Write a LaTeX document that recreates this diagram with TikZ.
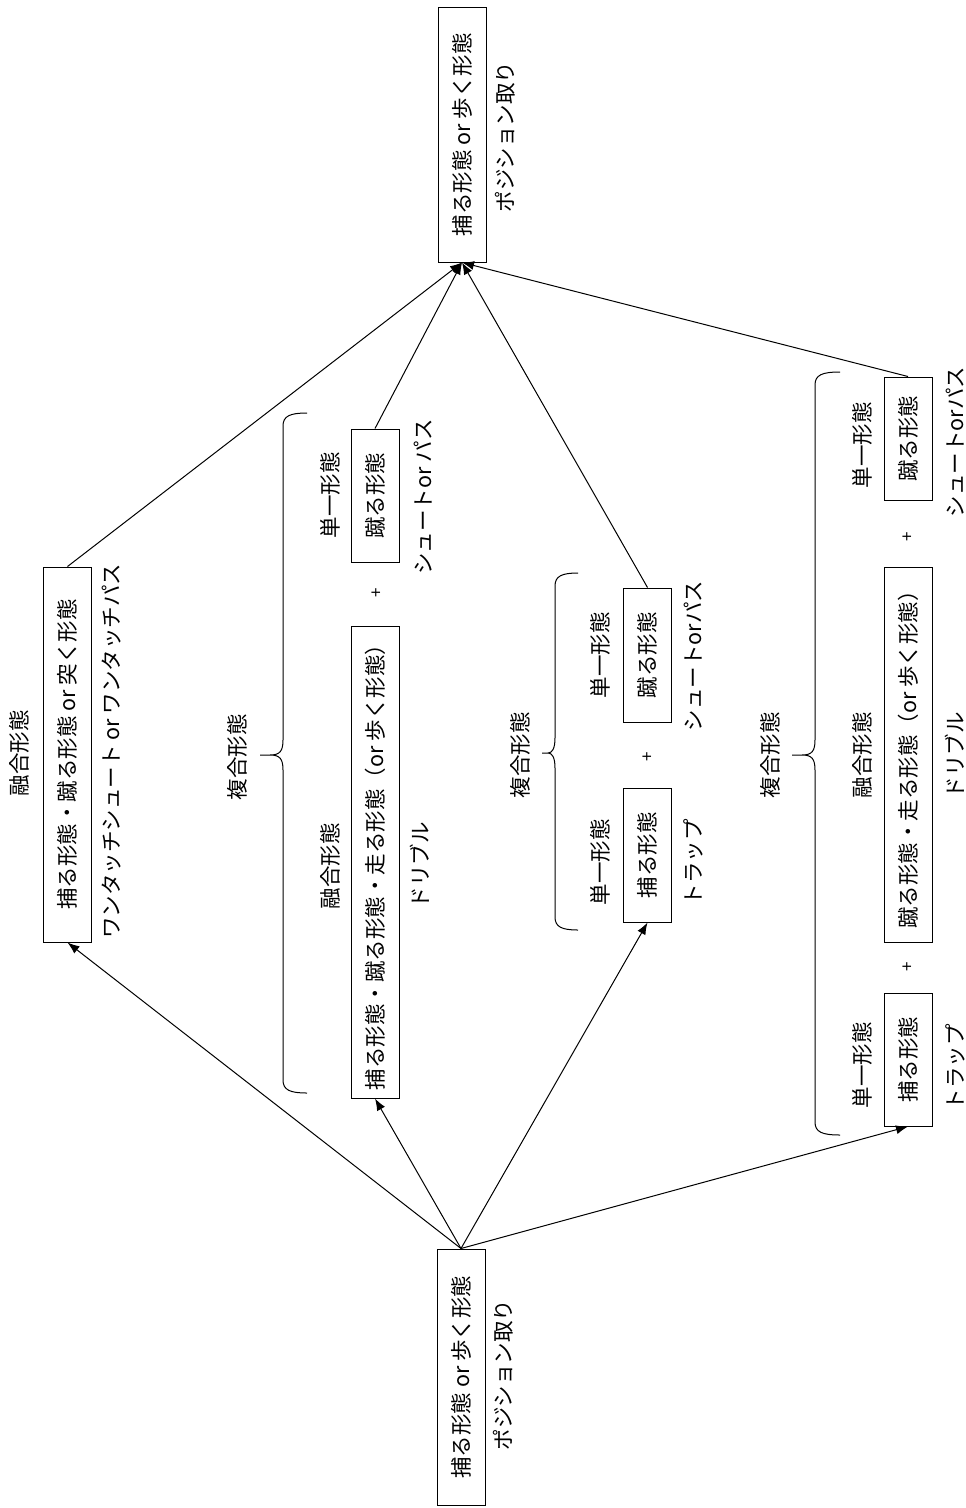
\documentclass[tikz,border=0pt]{standalone}
\usepackage{fontspec}
\setmainfont{Noto Sans CJK JP}
\usetikzlibrary{arrows.meta}
\begin{document}
\begin{tikzpicture}[x=1pt,y=-1pt,
  txt/.style={rotate=90, inner sep=0pt, font=\fontsize{21.5}{25}\selectfont},
  box/.style={txt, draw, line width=1pt, minimum height=48pt},
  plus/.style={txt, font=\fontsize{17}{19}\selectfont},
  arr/.style={line width=1pt, -{Latex[length=12pt,width=9pt]}},
  brace/.style={line width=1pt}]
\useasboundingbox (0,0) rectangle (966,1508);

% start and goal: position taking
\node[box, minimum width=255pt] (goal) at (462,134.5) {捕る形態 or 歩く形態};
\node[txt] (goalcap) at (505,137) {ポジション取り};
\node[box, minimum width=256pt] (start) at (461,1377) {捕る形態 or 歩く形態};
\node[txt] (startcap) at (503,1375) {ポジション取り};

% route 1: fused one-touch form
\node[txt] (fAlbl) at (19,753) {融合形態};
\node[box, minimum width=375pt] (fA) at (67.5,754.5) {捕る形態・蹴る形態 or 突く形態};
\node[txt] (fAcap) at (112,751) {ワンタッチシュート or ワンタッチパス};

% route 2: dribble + kick
\node[txt] (c1lbl) at (237,757) {複合形態};
\draw[brace] (307,413) .. controls (290,413) and (283,416) .. (283,426)
  -- (283,740) .. controls (283,751) and (280,755) .. (270,755) -- (260,755)
  -- (270,755) .. controls (280,755) and (283,759) .. (283,770)
  -- (283,1080) .. controls (283,1090) and (290,1093) .. (307,1093);
\node[txt] (k1lbl) at (330,495) {単一形態};
\node[box, minimum width=133pt] (k1) at (375,495.5) {蹴る形態};
\node[txt] (k1cap) at (423,497) {シュートor パス};
\node[plus] (p1) at (377,593) {+};
\node[txt] (d1lbl) at (330,866) {融合形態};
\node[box, minimum width=472pt] (d1) at (375,862) {捕る形態・蹴る形態・走る形態（or 歩く形態）};
\node[txt] (d1cap) at (420,865) {ドリブル};

% route 3: trap + kick
\node[txt] (c2lbl) at (520,755) {複合形態};
\draw[brace] (578,573) .. controls (562,573) and (555,576) .. (555,586)
  -- (555,738) .. controls (555,749) and (552,753) .. (548,753) -- (542,753)
  -- (548,753) .. controls (552,753) and (555,757) .. (555,768)
  -- (555,917) .. controls (555,927) and (562,930) .. (578,930);
\node[txt] (k2lbl) at (600,655) {単一形態};
\node[box, minimum width=134pt] (k2) at (647.5,655) {蹴る形態};
\node[txt] (k2cap) at (693,656) {シュートorパス};
\node[plus] (p2) at (648,757) {+};
\node[txt] (t2lbl) at (600,862) {単一形態};
\node[box, minimum width=134pt] (t2) at (647.5,855) {捕る形態};
\node[txt] (t2cap) at (693,862) {トラップ};

% route 4: trap + dribble + kick
\node[txt] (c3lbl) at (770,755) {複合形態};
\draw[brace] (840,372) .. controls (822,372) and (815,375) .. (815,385)
  -- (815,740) .. controls (815,751) and (812,755) .. (802,755) -- (792,755)
  -- (802,755) .. controls (812,755) and (815,759) .. (815,770)
  -- (815,1122) .. controls (815,1132) and (822,1135) .. (840,1135);
\node[txt] (k3lbl) at (862,445) {単一形態};
\node[box, minimum width=123pt] (k3) at (908,438.5) {蹴る形態};
\node[txt] (k3cap) at (955,442) {シュートorパス};
\node[plus] (p3) at (908,537) {+};
\node[txt] (d3lbl) at (862,755) {融合形態};
\node[box, minimum width=375pt] (d3) at (908,754.5) {蹴る形態・走る形態（or 歩く形態）};
\node[txt] (d3cap) at (955,755) {ドリブル};
\node[plus] (p4) at (908,967) {+};
\node[txt] (t3lbl) at (862,1065) {単一形態};
\node[box, minimum width=133pt] (t3) at (908,1059.5) {捕る形態};
\node[txt] (t3cap) at (955,1067) {トラップ};

% arrows out of the starting position
\draw[arr] (start.east) -- (fA.west);
\draw[arr] (start.east) -- (d1.west);
\draw[arr] (start.east) -- (t2.west);
\draw[arr] (start.east) -- (t3.west);

% arrows into the goal position
\draw[arr] (fA.east) -- (goal.west);
\draw[arr] (k1.east) -- (goal.west);
\draw[arr] (k2.east) -- (goal.west);
\draw[arr] (k3.east) -- (goal.west);
\end{tikzpicture}
\end{document}
